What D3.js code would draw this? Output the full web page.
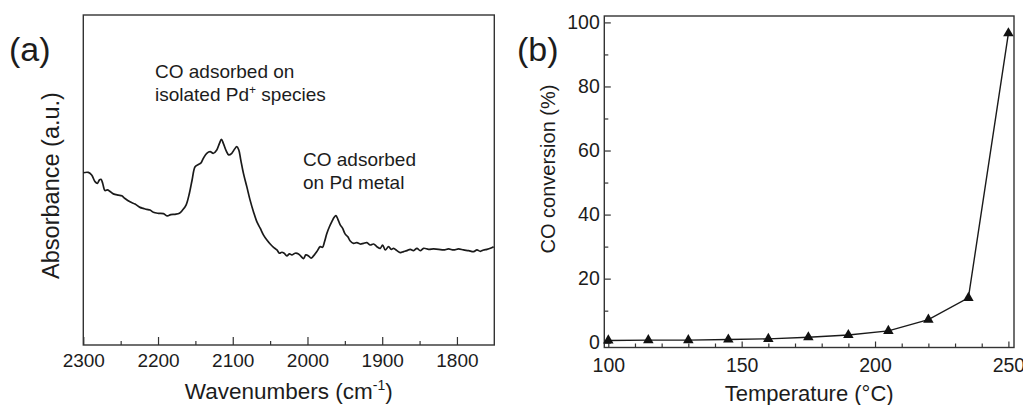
<!DOCTYPE html>
<html>
<head>
<meta charset="utf-8">
<script src="https://cdn.jsdelivr.net/npm/d3@7"></script>
<style>
  html, body { margin: 0; padding: 0; background: #fff; }
  svg { display: block; font-family: "Liberation Sans", Arial, sans-serif; }
  .axis text { fill: #1c1c1c; }
  .axis line { stroke: #333; stroke-width: 1.2; }
</style>
</head>
<body>
<svg id="fig" width="1023" height="405"></svg>
<script>
// ---- (a) IR spectrum of adsorbed CO ----
const wavenumbers = [
  2300, 2293.3, 2288.8, 2284.3, 2281.2, 2278.5, 2276.3, 2274.1, 2271, 2267.8,
  2264.2, 2259.8, 2253.1, 2248.6, 2244.2, 2237.5, 2230.8, 2224.1, 2219.6, 2215.1,
  2210.7, 2206.2, 2199.5, 2192.8, 2187.5, 2183, 2177.2, 2171.4, 2167.1, 2162.5,
  2158, 2154.4, 2150.4, 2146, 2142.8, 2139.3, 2134.8, 2130.3, 2125.9, 2121.4,
  2117.8, 2115.2, 2112.6, 2108.9, 2105.4, 2101.3, 2097.7, 2094.6, 2091.9, 2089.3,
  2085.7, 2081.2, 2076.8, 2072.3, 2067.8, 2063.3, 2058.8, 2054.3, 2049.9, 2045.4,
  2040.9, 2037.5, 2034.3, 2031.2, 2027.6, 2024.1, 2020.9, 2016.5, 2012, 2008.4,
  2005.3, 2002.2, 1998.6, 1995.1, 1991.9, 1987.5, 1983, 1979.9, 1977.2, 1974.1,
  1970.5, 1967.4, 1964.3, 1962, 1959.3, 1956.2, 1953.1, 1949.5, 1946, 1942.8,
  1938.4, 1933.9, 1929.4, 1925, 1920.5, 1916, 1911.6, 1907.1, 1902.6, 1899.5,
  1895.9, 1891.5, 1887.9, 1884.8, 1880.3, 1875.8, 1871.4, 1866.9, 1862.5, 1858,
  1853.5, 1849.1, 1844.6, 1837.9, 1831.2, 1824.5, 1817.8, 1811.2, 1804.5, 1797.8,
  1791.1, 1784.4, 1777.7, 1773.2, 1768.7, 1764.3, 1759.8, 1755.3, 1750.9
];
const absorbance = [
  0.522, 0.523, 0.515, 0.495, 0.490, 0.500, 0.502, 0.490, 0.468, 0.470,
  0.465, 0.458, 0.454, 0.452, 0.444, 0.434, 0.427, 0.417, 0.414, 0.411,
  0.409, 0.402, 0.399, 0.398, 0.391, 0.395, 0.396, 0.399, 0.409, 0.424,
  0.460, 0.500, 0.540, 0.547, 0.551, 0.566, 0.581, 0.586, 0.581, 0.591,
  0.611, 0.623, 0.611, 0.589, 0.576, 0.581, 0.593, 0.601, 0.591, 0.561,
  0.520, 0.480, 0.439, 0.404, 0.374, 0.354, 0.333, 0.318, 0.306, 0.296,
  0.288, 0.278, 0.281, 0.278, 0.270, 0.276, 0.273, 0.278, 0.276, 0.268,
  0.262, 0.273, 0.270, 0.263, 0.270, 0.283, 0.298, 0.296, 0.313, 0.338,
  0.359, 0.374, 0.387, 0.392, 0.381, 0.364, 0.354, 0.336, 0.328, 0.315,
  0.308, 0.310, 0.306, 0.308, 0.310, 0.303, 0.306, 0.298, 0.293, 0.303,
  0.288, 0.298, 0.290, 0.293, 0.286, 0.280, 0.283, 0.286, 0.290, 0.286,
  0.293, 0.286, 0.293, 0.290, 0.291, 0.290, 0.288, 0.291, 0.288, 0.291,
  0.288, 0.286, 0.283, 0.288, 0.284, 0.288, 0.290, 0.293, 0.298
];
const waveTicks = [2300, 2200, 2100, 2000, 1900, 1800];
const waveMinorTicks = [2250, 2150, 2050, 1950, 1850];

// ---- (b) CO conversion vs. temperature ----
const temperature = [100, 115, 130, 145, 160, 175, 190, 205, 220, 235, 250];
const conversion  = [0.7, 0.8, 0.8, 1.0, 1.2, 1.7, 2.4, 3.7, 7.2, 14.0, 96.6];
const tempTicks = [100, 150, 200, 250];
const tempMinorTicks = [110, 120, 130, 140, 160, 170, 180, 190, 210, 220, 230, 240];
const convTicks = [0, 20, 40, 60, 80, 100];
const convMinorTicks = [10, 30, 50, 70, 90];

const svg = d3.select("#fig");
const ink = "#1c1c1c";

// ================= panel (a) =================
const A = { left: 83.3, right: 494.3, top: 15, bottom: 345 };
const xA = d3.scaleLinear().domain([2300, 1750]).range([A.left, A.right]);
const yA = d3.scaleLinear().domain([0, 1]).range([A.bottom, A.top]);

const gA = svg.append("g");

gA.append("g").attr("class", "axis")
  .attr("transform", `translate(0,${A.bottom})`)
  .call(d3.axisBottom(xA).tickValues(waveTicks).tickSize(-8).tickPadding(9).tickFormat(d3.format("d")))
  .call(g => g.select(".domain").remove())
  .call(g => g.selectAll("text").attr("font-size", 19).attr("font-family", "Liberation Sans, Arial, sans-serif"));
gA.append("g").attr("class", "axis")
  .attr("transform", `translate(0,${A.bottom})`)
  .call(d3.axisBottom(xA).tickValues(waveMinorTicks).tickSize(-4).tickFormat(""))
  .call(g => g.select(".domain").remove());

gA.append("rect")
  .attr("x", A.left).attr("y", A.top)
  .attr("width", A.right - A.left).attr("height", A.bottom - A.top)
  .attr("fill", "none").attr("stroke", "#333").attr("stroke-width", 1.4);

gA.append("path")
  .datum(d3.zip(wavenumbers, absorbance))
  .attr("fill", "none").attr("stroke", "#1a1a1a").attr("stroke-width", 1.7)
  .attr("stroke-linejoin", "round")
  .attr("d", d3.line().x(d => xA(d[0])).y(d => yA(d[1])).curve(d3.curveCatmullRom.alpha(0.5)));

// annotations
const note1 = gA.append("text").attr("font-size", 19).attr("fill", ink);
note1.append("tspan").attr("x", 155).attr("y", 78).text("CO adsorbed on");
const l2 = note1.append("tspan").attr("x", 155).attr("y", 100.7);
l2.append("tspan").text("isolated Pd");
l2.append("tspan").attr("font-size", 12).attr("dy", -7).text("+");
l2.append("tspan").attr("dy", 7).text(" species");

const note2 = gA.append("text").attr("font-size", 19).attr("fill", ink);
note2.append("tspan").attr("x", 303).attr("y", 166).text("CO adsorbed");
note2.append("tspan").attr("x", 303).attr("y", 189).text("on Pd metal");

// axis titles
const xtA = gA.append("text").attr("x", (A.left + A.right) / 2).attr("y", 398.5)
  .attr("text-anchor", "middle").attr("font-size", 22.5).attr("fill", ink);
xtA.append("tspan").text("Wavenumbers (cm");
xtA.append("tspan").attr("font-size", 14).attr("dy", -9).text("-1");
xtA.append("tspan").attr("dy", 9).text(")");

gA.append("text").attr("transform", `translate(59,185.5) rotate(-90)`)
  .attr("text-anchor", "middle").attr("font-size", 23.5).attr("fill", ink)
  .text("Absorbance (a.u.)");

gA.append("text").attr("x", 9).attr("y", 60.5).attr("font-size", 34).attr("fill", ink).text("(a)");

// ================= panel (b) =================
const B = { left: 604.3, right: 1014, top: 16, bottom: 347.5 };
const xB = d3.scaleLinear().domain([98.5, 252.1]).range([B.left, B.right]);
const yB = d3.scaleLinear().domain([-1.5, 102]).range([B.bottom, B.top]);

const gB = svg.append("g");

gB.append("g").attr("class", "axis")
  .attr("transform", `translate(0,${B.bottom})`)
  .call(d3.axisBottom(xB).tickValues(tempTicks).tickSize(-6).tickPadding(11))
  .call(g => g.select(".domain").remove())
  .call(g => g.selectAll("text").attr("font-size", 19.5).attr("font-family", "Liberation Sans, Arial, sans-serif"));
gB.append("g").attr("class", "axis")
  .attr("transform", `translate(0,${B.bottom})`)
  .call(d3.axisBottom(xB).tickValues(tempMinorTicks).tickSize(-4).tickFormat(""))
  .call(g => g.select(".domain").remove());

gB.append("g").attr("class", "axis")
  .attr("transform", `translate(${B.left},0)`)
  .call(d3.axisLeft(yB).tickValues(convTicks).tickSize(-6.5).tickPadding(4.5))
  .call(g => g.select(".domain").remove())
  .call(g => g.selectAll("text").attr("font-size", 19.5).attr("font-family", "Liberation Sans, Arial, sans-serif"));
gB.append("g").attr("class", "axis")
  .attr("transform", `translate(${B.left},0)`)
  .call(d3.axisLeft(yB).tickValues(convMinorTicks).tickSize(-4).tickFormat(""))
  .call(g => g.select(".domain").remove());

gB.append("rect")
  .attr("x", B.left).attr("y", B.top)
  .attr("width", B.right - B.left).attr("height", B.bottom - B.top)
  .attr("fill", "none").attr("stroke", "#333").attr("stroke-width", 1.4);

const pts = d3.zip(temperature, conversion);
gB.append("path")
  .datum(pts)
  .attr("fill", "none").attr("stroke", "#1a1a1a").attr("stroke-width", 1.4)
  .attr("d", d3.line().x(d => xB(d[0])).y(d => yB(d[1])));

gB.selectAll("path.marker").data(pts).join("path")
  .attr("class", "marker")
  .attr("transform", d => `translate(${xB(d[0])},${yB(d[1])})`)
  .attr("d", d3.symbol(d3.symbolTriangle, 48))
  .attr("fill", "#111");

gB.append("text").attr("x", (B.left + B.right) / 2).attr("y", 400.5)
  .attr("text-anchor", "middle").attr("font-size", 22).attr("fill", ink)
  .text("Temperature (\u00B0C)");

gB.append("text").attr("transform", `translate(555,169) rotate(-90)`)
  .attr("text-anchor", "middle").attr("font-size", 20).attr("fill", ink)
  .text("CO conversion (%)");

gB.append("text").attr("x", 517).attr("y", 60.5).attr("font-size", 34).attr("fill", ink).text("(b)");
</script>
</body>
</html>
